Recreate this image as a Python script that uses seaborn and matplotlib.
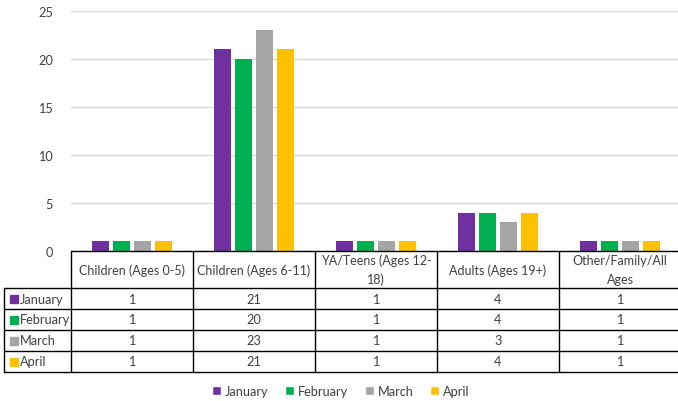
import matplotlib
matplotlib.use("Agg")
import matplotlib.pyplot as plt
import seaborn as sns
import pandas as pd
from matplotlib.patches import Patch, Rectangle
from matplotlib.lines import Line2D

categories = ["Children (Ages 0-5)", "Children (Ages 6-11)", "YA/Teens (Ages 12-18)",
              "Adults (Ages 19+)", "Other/Family/All Ages"]
header_labels = ["Children (Ages 0-5)", "Children (Ages 6-11)", "YA/Teens (Ages 12-\n18)",
                 "Adults (Ages 19+)", "Other/Family/All\nAges"]
months = ["January", "February", "March", "April"]
january = [1, 21, 1, 4, 1]
february = [1, 20, 1, 4, 1]
march = [1, 23, 1, 3, 1]
april = [1, 21, 1, 4, 1]
colors = ["#7030A0", "#00B050", "#A5A5A5", "#FFC000"]
yticks = [0, 5, 10, 15, 20, 25]

series = [january, february, march, april]
rows = []
for m, vals in zip(months, series):
    for c, v in zip(categories, vals):
        rows.append({"Category": c, "Month": m, "Value": v})
df = pd.DataFrame(rows)

sns.set_theme(style="white")
plt.rcParams["font.family"] = ["Lato", "DejaVu Sans"]
FS = 9.2
TXT = "#404040"

W, H = 678, 402
fig = plt.figure(figsize=(W / 100, H / 100), dpi=100)

def fx(px):
    return px / W

def fy(py):
    return 1 - py / H

ax_l, ax_r, ax_t, ax_b = 71, 681, 12, 252
ax = fig.add_axes([fx(ax_l), fy(ax_b), fx(ax_r - ax_l), (ax_b - ax_t) / H])
sns.barplot(data=df, x="Category", y="Value", hue="Month", palette=colors,
            width=0.69, gap=0.16, order=categories, hue_order=months,
            ax=ax, legend=False, saturation=1, linewidth=0)
ax.set_xlim(-0.5, len(categories) - 0.5)
ax.set_ylim(0, 25)
ax.set_yticks(yticks)
ax.yaxis.grid(True, color="#D9D9D9", linewidth=1)
ax.set_axisbelow(True)
for s in ax.spines.values():
    s.set_visible(False)
ax.set_xticks([])
ax.set_xlabel("")
ax.set_ylabel("")
ax.tick_params(axis="y", length=0, labelsize=FS, labelcolor=TXT, pad=13)

# Data table
col_w = (ax_r - ax_l) / len(categories)
row_edges = [252, 289, 310, 331, 352, 373]
left_px = 4
lc = "#000000"

def hline(y, x0, x1):
    fig.add_artist(Line2D([fx(x0), fx(x1)], [fy(y), fy(y)], color=lc, lw=1))

def vline(x, y0, y1):
    fig.add_artist(Line2D([fx(x), fx(x)], [fy(y0), fy(y1)], color=lc, lw=1))

hline(row_edges[0], ax_l, ax_r)
for y in row_edges[1:]:
    hline(y, left_px, ax_r)
for i in range(len(categories) + 1):
    vline(ax_l + col_w * i, row_edges[0], row_edges[-1])
vline(left_px, row_edges[1], row_edges[-1])

for i, lab in enumerate(header_labels):
    cx = ax_l + col_w * (i + 0.5)
    cy = (row_edges[0] + row_edges[1]) / 2
    fig.text(fx(cx), fy(cy), lab, ha="center", va="center", fontsize=9,
             color=TXT, linespacing=1.65)

for r, (m, vals, col) in enumerate(zip(months, series, colors)):
    cy = (row_edges[r + 1] + row_edges[r + 2]) / 2
    fig.add_artist(Rectangle((fx(10), fy(cy + 4)), fx(8), 8 / H, color=col,
                             transform=fig.transFigure))
    fig.text(fx(20), fy(cy), m, ha="left", va="center", fontsize=FS, color=TXT)
    for i, v in enumerate(vals):
        cx = ax_l + col_w * (i + 0.5)
        fig.text(fx(cx), fy(cy), str(v), ha="center", va="center",
                 fontsize=FS, color=TXT)

handles = [Patch(facecolor=c, label=m) for m, c in zip(months, colors)]
fig.legend(handles=handles, loc="center", bbox_to_anchor=(fx(341), fy(392)),
           ncol=4, frameon=False, fontsize=FS, handlelength=0.7, handleheight=0.7,
           handletextpad=0.3, columnspacing=1.3, labelcolor=TXT)

fig.savefig("out.png", dpi=100)
